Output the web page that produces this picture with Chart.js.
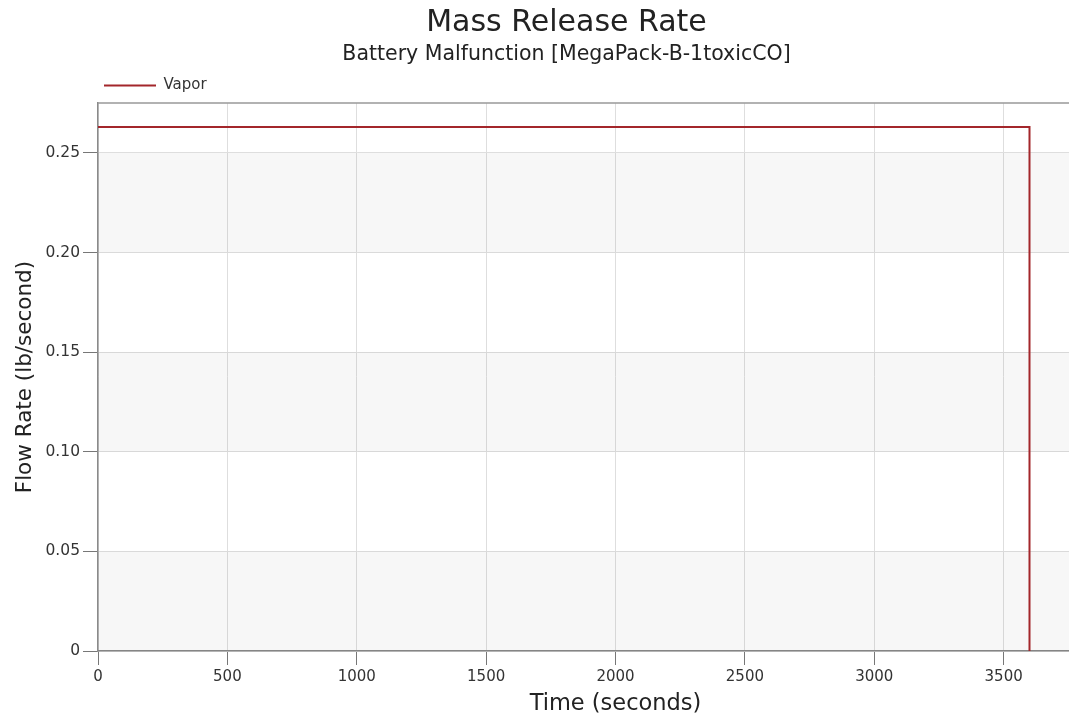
<!DOCTYPE html>
<html>
<head>
<meta charset="utf-8">
<script src="https://cdn.jsdelivr.net/npm/chart.js@4"></script>
<style>
  html, body { margin: 0; padding: 0; background: #fff; overflow: hidden; }
  /* 원본 그림은 오른쪽이 잘려 있음: 캔버스를 더 넓게 그리고 창 밖으로 넘김 */
  #wrap { width: 1133px; height: 721px; }
</style>
</head>
<body>
<div id="wrap"><canvas id="rateChart"></canvas></div>
<script>
// 데이터
const timeSec = [0, 3600, 3600];
const vaporRate = [0.263, 0.263, 0];
const xTicks = [0, 500, 1000, 1500, 2000, 2500, 3000, 3500];
const yTicks = [0, 0.05, 0.10, 0.15, 0.20, 0.25];

const FONT = "'DejaVu Sans', Verdana, sans-serif";

// 회색/흰색 번갈아 칠하는 배경 + 위쪽 테두리
const bandPlugin = {
    id: 'bands',
    beforeDatasetsDraw(chart) {
        const { ctx, chartArea, scales } = chart;
        const y = scales.y;
        ctx.save();
        ctx.fillStyle = 'rgba(0,0,0,0.03)';
        for (let i = 0; i < yTicks.length - 1; i += 2) {
            const top = y.getPixelForValue(yTicks[i + 1]);
            const bottom = y.getPixelForValue(yTicks[i]);
            ctx.fillRect(chartArea.left, top, chartArea.right - chartArea.left, bottom - top);
        }
        ctx.strokeStyle = '#999';
        ctx.lineWidth = 1.5;
        ctx.beginPath();
        ctx.moveTo(chartArea.left, chartArea.top);
        ctx.lineTo(chartArea.right, chartArea.top);
        ctx.stroke();
        ctx.restore();
    }
};

const ctx = document.getElementById('rateChart').getContext('2d');
new Chart(ctx, {
    type: 'line',
    data: {
        datasets: [{
            label: 'Vapor',
            data: timeSec.map((t, i) => ({ x: t, y: vaporRate[i] })),
            borderColor: '#a3262b',
            backgroundColor: '#a3262b',
            borderWidth: 2,
            pointRadius: 0,
            fill: false,
            tension: 0
        }]
    },
    options: {
        responsive: true,
        maintainAspectRatio: false,
        animation: false,
        layout: { padding: 0 },
        scales: {
            x: {
                type: 'linear',
                min: 0,
                max: 4000,
                afterBuildTicks: (axis) => { axis.ticks = xTicks.map(v => ({ value: v })); },
                afterFit: (axis) => { axis.height = 70; },
                ticks: {
                    color: '#333',
                    font: { family: FONT, size: 15 },
                    padding: 3,
                    maxRotation: 0,
                    callback: (v) => String(v)
                },
                grid: { color: '#dedede', tickColor: '#777', tickLength: 14 },
                border: { color: '#8a8a8a', width: 1.5 },
                title: { display: true, text: 'Time (seconds)', color: '#222', font: { family: FONT, size: 22.5 }, padding: { top: 0, bottom: 3 } }
            },
            y: {
                min: 0,
                max: 0.275,
                afterBuildTicks: (axis) => { axis.ticks = yTicks.map(v => ({ value: v })); },
                afterFit: (axis) => { axis.width = 98; },
                ticks: {
                    color: '#333',
                    font: { family: FONT, size: 15.5 },
                    padding: 3,
                    callback: (v) => v === 0 ? '0' : v.toFixed(2)
                },
                grid: { color: '#dedede', tickColor: '#777', tickLength: 15 },
                border: { color: '#8a8a8a', width: 1.5 },
                title: { display: true, text: 'Flow Rate (lb/second)', color: '#222', font: { family: FONT, size: 21.5 }, padding: { top: 12.5, bottom: 0 } }
            }
        },
        plugins: {
            title: {
                display: true,
                text: 'Mass Release Rate',
                color: '#222',
                font: { family: FONT, size: 30, weight: 'normal' },
                padding: { top: 5, bottom: 1.5 }
            },
            subtitle: {
                display: true,
                text: 'Battery Malfunction [MegaPack-B-1toxicCO]',
                color: '#222',
                font: { family: FONT, size: 20.5 },
                padding: { top: 0, bottom: 5 }
            },
            legend: {
                display: true,
                position: 'top',
                align: 'start',
                fullSize: false,
                labels: {
                    usePointStyle: true,
                    pointStyle: 'line',
                    pointStyleWidth: 52,
                    padding: 6,
                    color: '#333',
                    font: { family: FONT, size: 15 }
                }
            },
            tooltip: { enabled: false }
        }
    },
    plugins: [bandPlugin]
});
</script>
</body>
</html>
